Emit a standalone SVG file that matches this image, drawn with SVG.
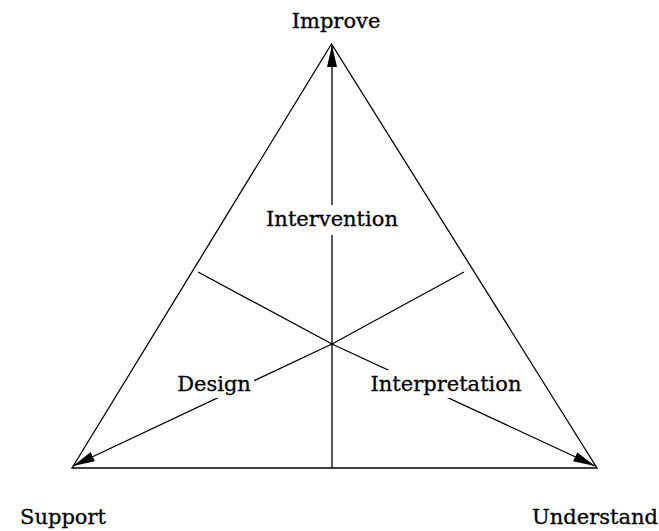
<svg xmlns="http://www.w3.org/2000/svg" width="659" height="531" viewBox="0 0 659 531">
<defs>
<style>
text{font-family:"DejaVu Serif","Liberation Serif",serif;font-size:21px;fill:#000;stroke:#000;stroke-width:0.3;text-anchor:middle}
.l{stroke:#000;stroke-width:1.3;fill:none}
.bg{fill:#fff}
</style>
<marker id="ah" viewBox="0 0 22 10" refX="22" refY="5" markerWidth="22" markerHeight="10" markerUnits="userSpaceOnUse" orient="auto">
<path d="M0,0 L22,5 L0,10 z" fill="#000"/>
</marker>
</defs>
<rect width="659" height="531" fill="#fff"/>
<g id="frame">
<path class="l" d="M331.5,44 L72,468 L597,468 Z"/>
</g>
<g id="connectors">
<polyline class="l" points="332,468 332,346 332,45" marker-end="url(#ah)"/>
<polyline class="l" points="464,272 332,344 73,466" marker-end="url(#ah)"/>
<polyline class="l" points="198,272 332,344 595,466" marker-end="url(#ah)"/>
</g>
<g id="improve"><text x="336" y="28">Improve</text></g>
<g id="support"><text x="63" y="524">Support</text></g>
<g id="understand"><text x="595" y="524">Understand</text></g>
<g id="intervention"><rect class="bg" x="263" y="205" width="138" height="30"/><text x="332" y="226">Intervention</text></g>
<g id="design"><rect class="bg" x="174" y="370" width="80" height="28"/><text x="214" y="391">Design</text></g>
<g id="interpretation"><rect class="bg" x="367" y="370" width="158" height="28"/><text x="446" y="391">Interpretation</text></g>
</svg>
